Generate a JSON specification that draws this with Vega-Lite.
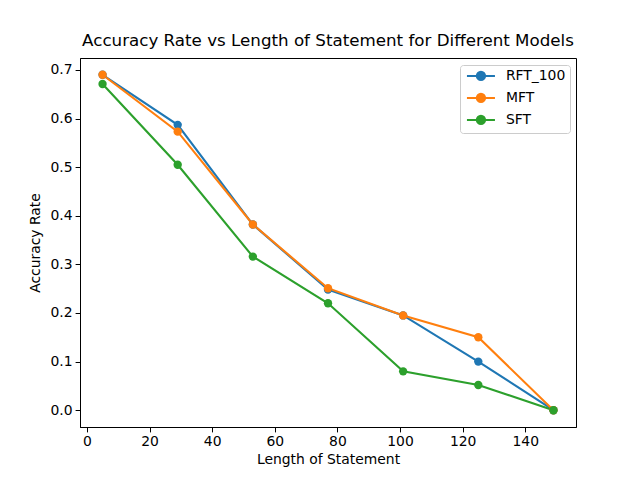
{
  "$schema": "https://vega.github.io/schema/vega-lite/v6.json",
  "width": 496,
  "height": 369,
  "autosize": {"type": "none"},
  "padding": {"left": 80, "top": 58, "right": 64, "bottom": 53},
  "background": "white",
  "title": {
    "text": "Accuracy Rate vs Length of Statement for Different Models",
    "font": "DejaVu Sans",
    "fontSize": 16.7,
    "fontWeight": "normal",
    "color": "black",
    "anchor": "middle",
    "offset": 8
  },
  "config": {
    "view": {"stroke": "black", "strokeWidth": 1},
    "axis": {
      "labelFont": "DejaVu Sans",
      "labelFontSize": 13.9,
      "labelColor": "black",
      "titleFont": "DejaVu Sans",
      "titleFontSize": 13.9,
      "titleFontWeight": "normal",
      "titleColor": "black",
      "grid": false,
      "domainColor": "black",
      "tickColor": "black",
      "tickSize": 4.9,
      "labelPadding": 3,
      "domain": true
    },
    "legend": {
      "labelFont": "DejaVu Sans",
      "labelFontSize": 13.9,
      "labelColor": "black"
    }
  },
  "data": {
    "values": [
      {"model": "RFT_100", "length": 5, "acc": 0.69},
      {"model": "RFT_100", "length": 29, "acc": 0.587},
      {"model": "RFT_100", "length": 53, "acc": 0.382},
      {"model": "RFT_100", "length": 77, "acc": 0.248},
      {"model": "RFT_100", "length": 101, "acc": 0.195},
      {"model": "RFT_100", "length": 125, "acc": 0.1},
      {"model": "RFT_100", "length": 149, "acc": 0.0},
      {"model": "MFT", "length": 5, "acc": 0.69},
      {"model": "MFT", "length": 29, "acc": 0.573},
      {"model": "MFT", "length": 53, "acc": 0.382},
      {"model": "MFT", "length": 77, "acc": 0.251},
      {"model": "MFT", "length": 101, "acc": 0.195},
      {"model": "MFT", "length": 125, "acc": 0.15},
      {"model": "MFT", "length": 149, "acc": 0.0},
      {"model": "SFT", "length": 5, "acc": 0.671},
      {"model": "SFT", "length": 29, "acc": 0.505},
      {"model": "SFT", "length": 53, "acc": 0.316},
      {"model": "SFT", "length": 77, "acc": 0.22},
      {"model": "SFT", "length": 101, "acc": 0.08},
      {"model": "SFT", "length": 125, "acc": 0.052},
      {"model": "SFT", "length": 149, "acc": 0.0}
    ]
  },
  "encoding": {
    "x": {
      "field": "length",
      "type": "quantitative",
      "title": "Length of Statement",
      "scale": {"domain": [-2.2, 156.2], "nice": false, "zero": false},
      "axis": {"values": [0, 20, 40, 60, 80, 100, 120, 140], "titlePadding": 4}
    },
    "y": {
      "field": "acc",
      "type": "quantitative",
      "title": "Accuracy Rate",
      "scale": {"domain": [-0.0345, 0.7245], "nice": false, "zero": false},
      "axis": {"values": [0, 0.1, 0.2, 0.3, 0.4, 0.5, 0.6, 0.7], "format": ".1f", "titlePadding": 8}
    },
    "color": {
      "field": "model",
      "type": "nominal",
      "scale": {
        "domain": ["RFT_100", "MFT", "SFT"],
        "range": ["#1f77b4", "#ff7f0e", "#2ca02c"]
      },
      "legend": {
        "title": null,
        "orient": "none",
        "legendX": 380,
        "legendY": 7,
        "padding": 4,
        "strokeColor": "#cccccc",
        "fillColor": "white",
        "cornerRadius": 3,
        "symbolType": "M-0.8,0L1.17,0M2.83,0L4.8,0M1.17,0A0.83,0.83 0 1,0 2.83,0A0.83,0.83 0 1,0 1.17,0Z",
        "symbolSize": 100,
        "symbolStrokeWidth": 2,
        "symbolOpacity": 1,
        "rowPadding": 4,
        "labelOffset": 28
      }
    }
  },
  "layer": [
    {
      "mark": {"type": "line", "strokeWidth": 2.1}
    },
    {
      "mark": {"type": "point", "filled": true, "size": 70, "opacity": 1, "shape": "circle"}
    }
  ]
}
